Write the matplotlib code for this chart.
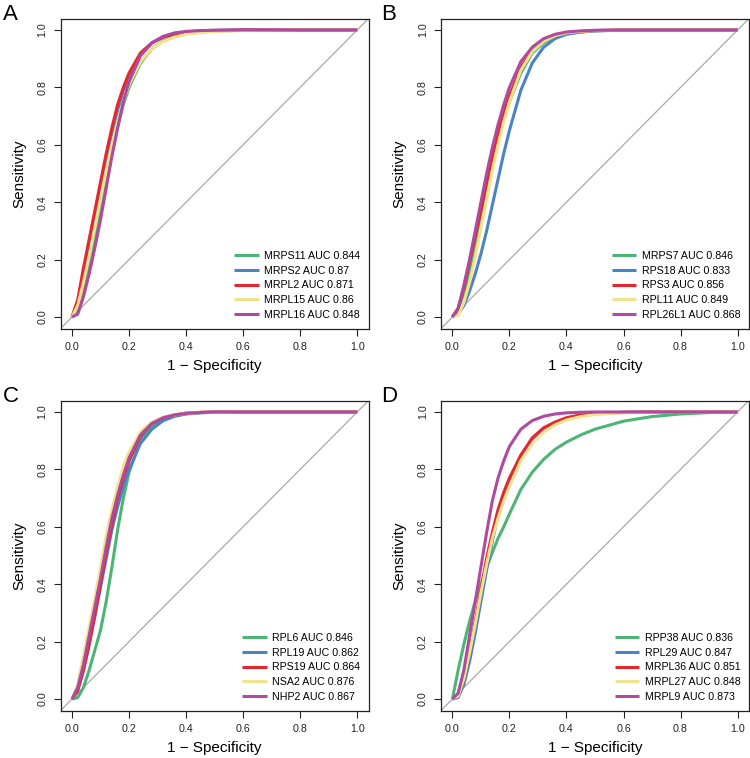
import numpy as np
import matplotlib
matplotlib.use('Agg')
import matplotlib.pyplot as plt

plt.rcParams['font.family'] = ['Liberation Sans', 'DejaVu Sans']

# false positive rate grid (1 - specificity)
fpr = [0, .02, .04, .06, .08, .10, .12, .14, .16, .18, .20, .24, .28, .32, .36, .40, .45, .50, .60, .70, .80, .90, 1.0]

# panel A
a_names = ['MRPS11 AUC 0.844', 'MRPS2 AUC 0.87', 'MRPL2 AUC 0.871', 'MRPL15 AUC 0.86', 'MRPL16 AUC 0.848']
a_mrps11 = [0, .03, .10, .18, .27, .37, .47, .57, .66, .74, .80, .885, .935, .962, .978, .987, .993, .996, .999, 1, 1, 1, 1]
a_mrps2 = [0, .05, .15, .25, .35, .45, .55, .64, .72, .79, .84, .915, .955, .976, .987, .993, .997, .999, 1, 1, 1, 1, 1]
a_mrpl2 = [0, .06, .17, .27, .37, .47, .57, .66, .74, .80, .85, .92, .955, .975, .986, .992, .996, .998, 1, 1, 1, 1, 1]
a_mrpl15 = [0, .04, .12, .21, .31, .41, .51, .60, .68, .75, .81, .89, .935, .96, .975, .985, .991, .995, .998, .999, 1, 1, 1]
a_mrpl16 = [0, .01, .07, .15, .24, .34, .45, .56, .66, .75, .82, .91, .955, .978, .99, .995, .998, .999, 1, 1, 1, 1, 1]

# panel B
b_names = ['MRPS7 AUC 0.846', 'RPS18 AUC 0.833', 'RPS3 AUC 0.856', 'RPL11 AUC 0.849', 'RPL26L1 AUC 0.868']
b_mrps7 = [0, .025, .08, .16, .25, .34, .44, .53, .61, .69, .75, .85, .92, .955, .975, .986, .993, .997, 1, 1, 1, 1, 1]
b_rps18 = [0, .01, .04, .09, .15, .22, .30, .39, .48, .57, .65, .79, .885, .94, .97, .985, .993, .997, .999, 1, 1, 1, 1]
b_rps3 = [0, .03, .10, .19, .28, .37, .47, .56, .64, .71, .77, .87, .93, .962, .98, .99, .995, .998, 1, 1, 1, 1, 1]
b_rpl11 = [0, .005, .05, .12, .21, .31, .41, .51, .60, .68, .75, .86, .925, .96, .98, .99, .995, .998, 1, 1, 1, 1, 1]
b_rpl26l1 = [0, .03, .11, .20, .30, .40, .50, .59, .67, .74, .80, .89, .94, .97, .985, .993, .997, .999, 1, 1, 1, 1, 1]

# panel C
c_names = ['RPL6 AUC 0.846', 'RPL19 AUC 0.862', 'RPS19 AUC 0.864', 'NSA2 AUC 0.876', 'NHP2 AUC 0.867']
c_rpl6 = [0, .005, .04, .10, .17, .24, .34, .46, .59, .70, .79, .90, .95, .975, .988, .994, .998, .999, 1, 1, 1, 1, 1]
c_rpl19 = [0, .03, .10, .19, .29, .39, .49, .59, .67, .74, .80, .89, .94, .97, .985, .993, .997, .999, 1, 1, 1, 1, 1]
c_rps19 = [0, .03, .10, .19, .29, .40, .51, .61, .70, .77, .83, .915, .96, .98, .99, .996, .999, 1, 1, 1, 1, 1, 1]
c_nsa2 = [0, .05, .15, .25, .35, .46, .57, .66, .74, .81, .86, .93, .965, .982, .99, .995, .998, .999, 1, 1, 1, 1, 1]
c_nhp2 = [0, .04, .12, .22, .32, .42, .53, .63, .71, .78, .84, .92, .96, .98, .99, .995, .998, 1, 1, 1, 1, 1, 1]

# panel D
d_names = ['RPP38 AUC 0.836', 'RPL29 AUC 0.847', 'MRPL36 AUC 0.851', 'MRPL27 AUC 0.848', 'MRPL9 AUC 0.873']
d_rpp38 = [0, .10, .19, .27, .34, .40, .46, .51, .56, .60, .645, .73, .79, .835, .87, .895, .92, .94, .968, .984, .993, .998, 1]
d_rpl29 = [0, .005, .05, .13, .23, .34, .45, .55, .64, .71, .76, .845, .905, .94, .962, .978, .988, .994, .998, 1, 1, 1, 1]
d_mrpl36 = [0, .01, .07, .16, .27, .38, .49, .58, .66, .72, .77, .85, .91, .945, .965, .98, .99, .995, .999, 1, 1, 1, 1]
d_mrpl27 = [0, .01, .07, .16, .26, .37, .47, .56, .63, .69, .74, .83, .89, .93, .955, .972, .984, .991, .997, .999, 1, 1, 1]
d_mrpl9 = [0, .02, .10, .22, .34, .46, .58, .69, .77, .83, .88, .94, .97, .985, .993, .997, .999, 1, 1, 1, 1, 1, 1]

colors = ['#4DB574', '#4A84C4', '#E5282F', '#F2E28E', '#AF4A9F']
ticks = [0.0, 0.2, 0.4, 0.6, 0.8, 1.0]
tick_labels = ['0.0', '0.2', '0.4', '0.6', '0.8', '1.0']

panels = [
    ('A', a_names, [a_mrps11, a_mrps2, a_mrpl2, a_mrpl15, a_mrpl16]),
    ('B', b_names, [b_mrps7, b_rps18, b_rps3, b_rpl11, b_rpl26l1]),
    ('C', c_names, [c_rpl6, c_rpl19, c_rps19, c_nsa2, c_nhp2]),
    ('D', d_names, [d_rpp38, d_rpl29, d_mrpl36, d_mrpl27, d_mrpl9]),
]

fig = plt.figure(figsize=(7.5, 7.58), dpi=100)
W, H = 750.0, 758.0
# axes boxes in pixels: left, top
boxes = [(60.6, 18.5), (441, 18.5), (60.6, 400.5), (441, 400.5)]
letter_pos = [(3, 4), (381, 4), (3, 386), (381, 386)]
bw, bh = 308.0, 310.0

for (letter, names, curves), (bx, by), (lx, ly) in zip(panels, boxes, letter_pos):
    ax = fig.add_axes([bx / W, 1 - (by + bh) / H, bw / W, bh / H])
    ax.set_xlim(-0.04, 1.04)
    ax.set_ylim(-0.04, 1.04)
    ax.plot([-0.04, 1.04], [-0.04, 1.04], color='#A9A9A9', lw=0.9, zorder=1)
    for sens, c, n in zip(curves, colors, names):
        ax.plot(fpr, sens, color=c, lw=2.2, label=n, solid_capstyle='butt')
    ax.set_xticks(ticks)
    ax.set_xticklabels(tick_labels)
    ax.set_yticks(ticks)
    ax.set_yticklabels(tick_labels, rotation=90, va='center')
    ax.tick_params(direction='out', length=5, width=0.8, labelsize=7.7, pad=4.5, colors='#222222')
    for s in ax.spines.values():
        s.set_linewidth(0.9)
        s.set_color('#222222')
    ax.set_xlabel('1 \u2212 Specificity', fontsize=11, labelpad=5)
    ax.set_ylabel('Sensitivity', fontsize=11, labelpad=8)
    ax.legend(loc='lower right', frameon=False, fontsize=7.7, handlelength=2.3,
              handletextpad=0.5, labelspacing=0.45, borderaxespad=0.4)
    fig.text(lx / W, 1 - ly / H, letter, fontsize=16, va='top', ha='left')

fig.savefig('out.png', dpi=100)
